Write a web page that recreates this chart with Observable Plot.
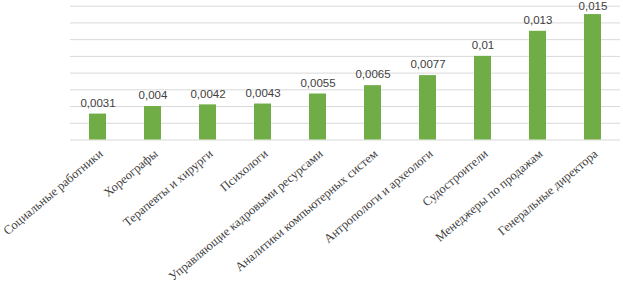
<!DOCTYPE html>
<html>
<head>
<meta charset="utf-8">
<script src="https://cdn.jsdelivr.net/npm/d3@7"></script>
<script src="https://cdn.jsdelivr.net/npm/@observablehq/plot@0.6"></script>
<style>
  html, body { margin: 0; padding: 0; background: #fff; }
</style>
</head>
<body>
<div id="chart"></div>
<script>
const categories = [
  "Социальные работники",
  "Хореографы",
  "Терапевты и хирурги",
  "Психологи",
  "Управляющие кадровыми ресурсами",
  "Аналитики компьютерных систем",
  "Антропологи и археологи",
  "Судостроители",
  "Менеджеры по продажам",
  "Генеральные директора"
];
const values = [0.0031, 0.004, 0.0042, 0.0043, 0.0055, 0.0065, 0.0077, 0.01, 0.013, 0.015];
const valueLabels = ["0,0031", "0,004", "0,0042", "0,0043", "0,0055", "0,0065", "0,0077", "0,01", "0,013", "0,015"];
const gridTicks = [0, 0.002, 0.004, 0.006, 0.008, 0.01, 0.012, 0.014, 0.016];

const data = categories.map((c, i) => ({ category: c, value: values[i], label: valueLabels[i] }));
const maxValue = d3.max(values);

const chart = Plot.plot({
  width: 623,
  height: 286,
  marginLeft: 70,
  marginRight: 3,
  marginTop: 5.7,
  marginBottom: 146.5,
  style: { background: "#fff", overflow: "visible" },
  x: { domain: categories, paddingInner: 0.69, paddingOuter: 0.345, axis: null },
  y: { domain: [0, 0.016], axis: null },
  marks: [
    Plot.ruleY(gridTicks, { stroke: "#d9d9d9", strokeWidth: 1 }),
    Plot.barY(data, { x: "category", y: "value", fill: "#70ad47" }),
    Plot.text(data.filter(d => d.value < maxValue), {
      x: "category", y: "value", text: "label",
      dy: -11, fill: "#404040", fontSize: 11.5,
      fontFamily: "Liberation Sans, Arial, sans-serif"
    }),
    Plot.text(data.filter(d => d.value === maxValue), {
      x: "category", y: "value", text: "label",
      dy: -8.5, fill: "#404040", fontSize: 11.5,
      fontFamily: "Liberation Sans, Arial, sans-serif"
    }),
    Plot.text(data, {
      x: "category", y: 0, text: "category",
      rotate: -40, textAnchor: "end", dx: 3, dy: 12,
      fill: "#404040", fontSize: 12.5,
      fontFamily: "Liberation Serif, Times New Roman, serif"
    })
  ]
});
document.getElementById("chart").appendChild(chart);
</script>
</body>
</html>
